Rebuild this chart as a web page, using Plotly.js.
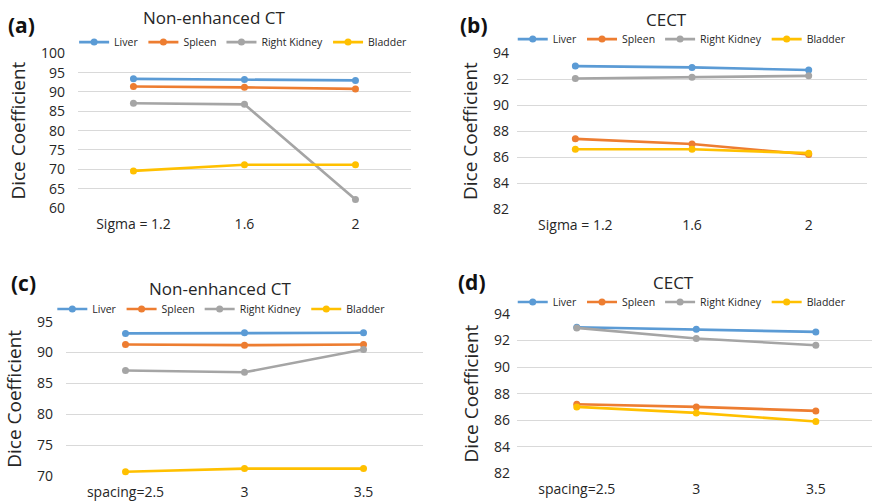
<!DOCTYPE html>
<html>
<head>
<meta charset="utf-8">
<script src="https://cdn.plot.ly/plotly-3.0.1.min.js"></script>
<style>html,body{margin:0;padding:0;background:#fff;}#chart{width:872px;height:501px;}</style>
</head>
<body>
<div id="chart"></div>
<script>
// ---- data ----
const organs = ['Liver', 'Spleen', 'Right Kidney', 'Bladder'];
const organColors = ['#5B9BD5', '#ED7D31', '#A5A5A5', '#FFC000'];

const sigmaLabels = ['Sigma = 1.2', '1.6', '2'];
const spacingLabels = ['spacing=2.5', '3', '3.5'];

// (a) Non-enhanced CT vs sigma
const aLiver = [93.4, 93.2, 93.0];
const aSpleen = [91.4, 91.2, 90.8];
const aKidney = [87.1, 86.8, 62.2];
const aBladder = [69.6, 71.2, 71.2];

// (b) CECT vs sigma
const bLiver = [93.0, 92.9, 92.7];
const bSpleen = [87.4, 87.0, 86.2];
const bKidney = [92.05, 92.15, 92.25];
const bBladder = [86.6, 86.6, 86.3];

// (c) Non-enhanced CT vs spacing
const cLiver = [93.1, 93.2, 93.2];
const cSpleen = [91.3, 91.2, 91.3];
const cKidney = [87.1, 86.8, 90.5];
const cBladder = [70.7, 71.2, 71.2];

// (d) CECT vs spacing
const dLiver = [93.0, 92.85, 92.65];
const dSpleen = [87.2, 87.0, 86.7];
const dKidney = [92.95, 92.15, 91.65];
const dBladder = [87.0, 86.55, 85.9];

const panelTitles = ['Non-enhanced CT', 'CECT', 'Non-enhanced CT', 'CECT'];
const panelLetters = ['(a)', '(b)', '(c)', '(d)'];
const yTitle = 'Dice Coefficient';

// ---- build ----
const FONT = 'Open Sans, sans-serif';
const TXT = '#262626';
const panels = [
  {cats: sigmaLabels, series: [aLiver, aSpleen, aKidney, aBladder], ax: ''},
  {cats: sigmaLabels, series: [bLiver, bSpleen, bKidney, bBladder], ax: '2'},
  {cats: spacingLabels, series: [cLiver, cSpleen, cKidney, cBladder], ax: '3'},
  {cats: spacingLabels, series: [dLiver, dSpleen, dKidney, dBladder], ax: '4'}
];

const traces = [];
panels.forEach((p, pi) => {
  p.series.forEach((vals, si) => {
    traces.push({
      type: 'scatter', mode: 'lines+markers',
      x: p.cats, y: vals, name: organs[si],
      xaxis: 'x' + p.ax, yaxis: 'y' + p.ax,
      legend: 'legend' + p.ax,
      line: {color: organColors[si], width: 2.6},
      marker: {color: organColors[si], size: 7},
      hoverinfo: 'x+y+name'
    });
  });
});

function xAxis(ax, domain, range) {
  return {
    domain: domain, anchor: 'y' + ax, type: 'category', range: range,
    showgrid: false, zeroline: false, showline: false, ticks: '',
    tickfont: {family: FONT, size: 14, color: TXT},
    ticklabelstandoff: 6, fixedrange: true
  };
}
function yAxis(ax, domain, range, dtick, standoff) {
  return {
    domain: domain, anchor: 'x' + ax, range: range, dtick: dtick, tick0: 0,
    showgrid: true, gridcolor: '#D9D9D9', gridwidth: 1,
    zeroline: false, showline: false, ticks: '',
    tickfont: {family: FONT, size: 14, color: TXT},
    ticklabelstandoff: standoff,
    title: {text: yTitle, font: {family: FONT, size: 19, color: TXT}, standoff: 10},
    fixedrange: true
  };
}
function legendAt(x, y) {
  return {
    x: x, y: y, xanchor: 'left', yanchor: 'middle', orientation: 'h',
    font: {family: FONT, size: 10.5, color: TXT},
    itemwidth: 30, tracegroupgap: 0, bgcolor: 'rgba(0,0,0,0)',
    itemclick: false, itemdoubleclick: false
  };
}

const annPos = [
  {tx: 0.2454, ty: 0.966, lx: 0.0252, ly: 0.950},
  {tx: 0.7638, ty: 0.962, lx: 0.5436, ly: 0.950},
  {tx: 0.2523, ty: 0.4251, lx: 0.0264, ly: 0.4351},
  {tx: 0.7718, ty: 0.4371, lx: 0.5413, ly: 0.437}
];
const annotations = [];
annPos.forEach((a, i) => {
  annotations.push({
    xref: 'paper', yref: 'paper', x: a.tx, y: a.ty, xanchor: 'center', yanchor: 'middle',
    text: panelTitles[i], showarrow: false, font: {family: FONT, size: 17, color: TXT}
  });
  annotations.push({
    xref: 'paper', yref: 'paper', x: a.lx, y: a.ly, xanchor: 'center', yanchor: 'middle',
    text: '<b>' + panelLetters[i] + '</b>', showarrow: false, font: {family: FONT, size: 21, color: '#111'}
  });
});

const layout = {
  width: 872, height: 501,
  margin: {l: 0, r: 0, t: 0, b: 0},
  paper_bgcolor: '#fff', plot_bgcolor: '#fff',
  showlegend: true,
  font: {family: FONT, color: TXT},
  xaxis:  xAxis('',  [0.0894, 0.4713], [-0.5, 2.5]),
  yaxis:  yAxis('',  [0.5848, 0.8936], [60, 100], 5, 12),
  xaxis2: xAxis('2', [0.5929, 0.9943], [-0.5, 2.5]),
  yaxis2: yAxis('2', [0.5828, 0.8940], [82, 94], 2, 7),
  xaxis3: xAxis('3', [0.0757, 0.4851], [-0.5, 2.5]),
  yaxis3: yAxis('3', [0.0499, 0.3579], [70, 95], 5, 12),
  xaxis4: xAxis('4', [0.5929, 1.0], [-0.5, 2.47]),
  yaxis4: yAxis('4', [0.0553, 0.3733], [82, 94], 2, 6),
  legend:  legendAt(0.085, 0.916),
  legend2: legendAt(0.588, 0.922),
  legend3: legendAt(0.060, 0.3832),
  legend4: legendAt(0.588, 0.3972),
  annotations: annotations
};

Plotly.newPlot('chart', traces, layout, {displayModeBar: false, staticPlot: false});
</script>
</body>
</html>
